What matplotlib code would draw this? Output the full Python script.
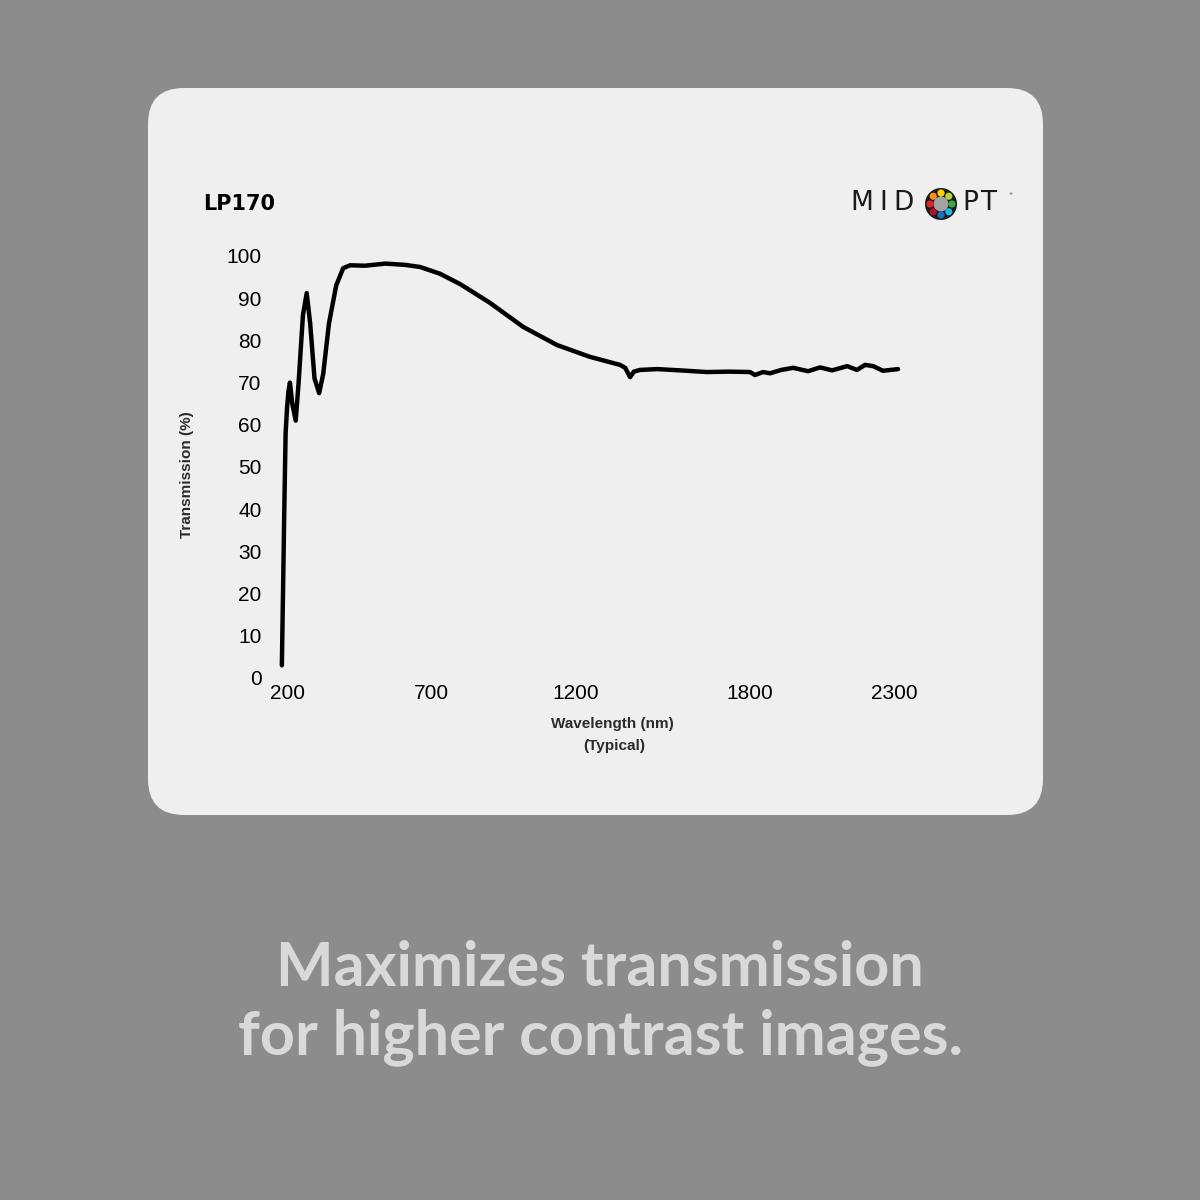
import matplotlib.pyplot as plt
from matplotlib.patches import FancyBboxPatch, Circle
import numpy as np

# wavelength (nm) vs transmission (%)
wavelength = [182, 186, 190, 195, 200, 205, 210, 218, 230, 240, 255, 268, 280, 295, 311,
              325, 345, 370, 394, 418, 470, 540, 608, 660, 729, 800, 902, 1017, 1134,
              1248, 1352, 1370, 1387, 1400, 1421, 1480, 1560, 1653, 1730, 1802, 1819,
              1847, 1871, 1910, 1951, 2003, 2044, 2086, 2138, 2172, 2200, 2228, 2262, 2314]
transmission = [3, 20, 38, 58, 64, 68, 70, 65, 61, 70, 86, 91.2, 84, 71, 67.5,
                72, 84, 93, 97.1, 97.8, 97.7, 98.2, 97.9, 97.4, 95.8, 93.3, 88.9, 83.2, 78.9,
                76.1, 74.2, 73.5, 71.3, 72.6, 73.0, 73.2, 72.9, 72.5, 72.6, 72.5, 71.8,
                72.5, 72.2, 73.0, 73.5, 72.7, 73.6, 72.9, 73.9, 73.0, 74.2, 73.9, 72.8, 73.2]

x_ticks = [200, 700, 1200, 1800, 2300]
y_ticks = list(range(0, 101, 10))

fig = plt.figure(figsize=(12, 12), dpi=100)
fig.patch.set_facecolor('#8c8c8c')

# light card behind the chart
card = FancyBboxPatch((148 / 1200, 1 - 815 / 1200), (1043 - 148) / 1200, (815 - 88) / 1200,
                      boxstyle='round,pad=0,rounding_size=0.03', transform=fig.transFigure,
                      facecolor='#efefef', edgecolor='none', zorder=-10)
fig.patches.append(card)

ax = fig.add_axes([270 / 1200, 1 - 678 / 1200, 650 / 1200, 422 / 1200])
ax.set_zorder(5)
ax.set_facecolor('none')
ax.plot(wavelength, transmission, color='black', linewidth=3.2, solid_joinstyle='round',
        solid_capstyle='round', clip_on=False)
ax.set_xlim(141, 2390)
ax.set_ylim(0, 100)
ax.set_xticks(x_ticks)
ax.set_yticks(y_ticks)
for s in ax.spines.values():
    s.set_visible(False)
ax.tick_params(length=0, labelsize=15, labelcolor='black')
ax.tick_params(axis='y', pad=6)
ax.tick_params(axis='x', pad=4)
for lbl in ax.get_xticklabels() + ax.get_yticklabels():
    lbl.set_family('Liberation Sans')

fig.text(187 / 1200, 1 - 475 / 1200, 'Transmission (%)', rotation=90, ha='center', va='center',
         fontsize=11, fontweight='bold', color='#2b2b2b', family='Liberation Sans')
fig.text(612 / 1200, 1 - 724 / 1200, 'Wavelength (nm)', ha='center', va='center',
         fontsize=11, fontweight='bold', color='#2b2b2b', family='Liberation Sans')
fig.text(614 / 1200, 1 - 746 / 1200, '(Typical)', ha='center', va='center',
         fontsize=11, fontweight='bold', color='#2b2b2b', family='Liberation Sans')

fig.text(203 / 1200, 1 - 204 / 1200, 'LP170', ha='left', va='center',
         fontsize=15, fontweight='bold', color='black', family='DejaVu Sans')

# MidOpt logo
for letter, xp in [('M', 850), ('I', 879), ('D', 893), ('P', 962), ('T', 980)]:
    fig.text(xp / 1200, 1 - 203 / 1200, letter, ha='left', va='center', fontsize=19,
             color='#1a1a1a', family='DejaVu Sans')
fig.text(1008 / 1200, 1 - 194 / 1200, '®', ha='left', va='center', fontsize=3,
         color='#1a1a1a')
cx, cy = 941 / 1200, 1 - 204 / 1200
fig.patches.append(Circle((cx, cy), 16 / 1200, transform=fig.transFigure,
                          facecolor='#1a1a1a', edgecolor='none'))
fig.patches.append(Circle((cx, cy), 7.5 / 1200, transform=fig.transFigure,
                          facecolor='#a3a3a3', edgecolor='none'))
dot_colors = ['#ffd200', '#b5d334', '#3aaa47', '#1fb5e6', '#1a6fbf', '#a3162e', '#e0242d', '#f7901e']
for i, c in enumerate(dot_colors):
    a = np.pi / 2 - i * np.pi / 4
    fig.patches.append(Circle((cx + 11 / 1200 * np.cos(a), cy + 11 / 1200 * np.sin(a)),
                              3.6 / 1200, transform=fig.transFigure,
                              facecolor=c, edgecolor='none'))

fig.text(600 / 1200, 1 - 968 / 1200, 'Maximizes transmission', ha='center', va='center',
         fontsize=44, fontweight='bold', color='#d9d9d9', family='Lato')
fig.text(600 / 1200, 1 - 1037 / 1200, 'for higher contrast images.', ha='center', va='center',
         fontsize=44, fontweight='bold', color='#d9d9d9', family='Lato')

fig.savefig('out.png', dpi=100, facecolor=fig.get_facecolor())
